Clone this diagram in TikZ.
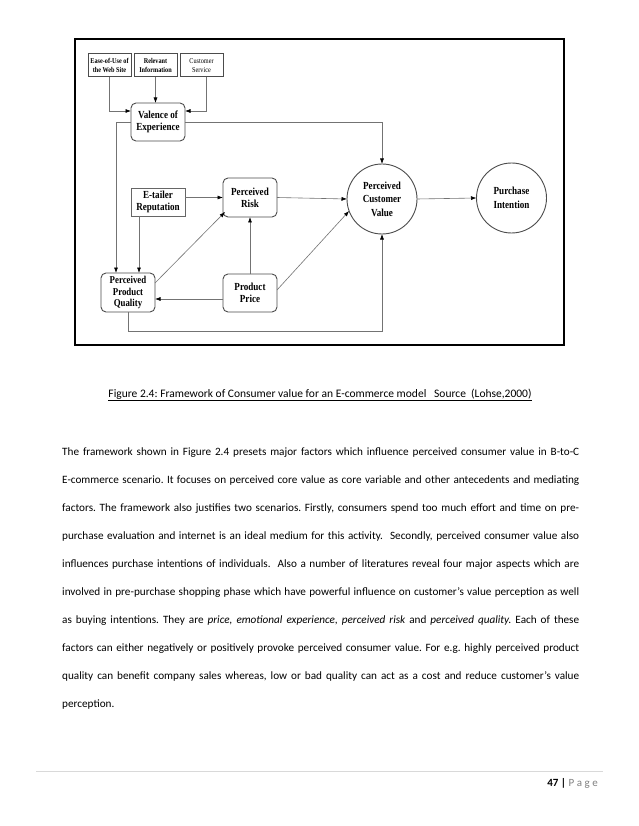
\documentclass[tikz,border=0pt]{standalone}
\usepackage{fontspec}
\setmainfont{Carlito}
\newfontfamily\dgfont[FakeStretch=0.84]{Liberation Serif}
\usetikzlibrary{arrows.meta,calc}
\frenchspacing
\begin{document}
\begin{tikzpicture}[x=1pt,y=-1pt,
  dtext/.style={font=\dgfont\bfseries\fontsize{10.8}{12.2}\selectfont, align=center},
  sbox/.style={draw=black!70, line width=1pt, minimum width=43pt, minimum height=23pt, inner sep=0pt, outer sep=0pt, align=center, font=\dgfont\bfseries\fontsize{7.4}{9}\selectfont},
  sboxl/.style={sbox, font=\dgfont\fontsize{7.4}{9}\selectfont},
  rbox/.style={dtext, draw=black!70, line width=0.9pt, rounded corners=5pt, minimum width=54pt, minimum height=39pt, inner sep=0pt, outer sep=0pt},
  qbox/.style={dtext, draw=black!60, line width=0.8pt, minimum width=54pt, minimum height=28pt, inner sep=0pt, outer sep=0pt},
  cnode/.style={dtext, draw=black!70, line width=0.9pt, circle, minimum size=70pt, inner sep=0pt, outer sep=0pt, font=\dgfont\bfseries\fontsize{10.8}{13.5}\selectfont},
  arr/.style={draw=black!55, line width=0.6pt, -{Latex[length=5.5pt,width=4pt,color=black]}},
  body/.style={anchor=base west, inner sep=0pt, font=\fontsize{11.2}{13}\selectfont}
]
\fill[white] (0,0) rectangle (638,826);
\useasboundingbox (0,0) rectangle (638,826);

% frame
\draw[line width=1.8pt] (75,39) rectangle (564,345);

% nodes
\node[sbox] (ease) at (109.5,65.5) {Ease-of-Use of\\the Web Site};
\node[sbox] (rel) at (155.5,65.5) {Relevant\\Information};
\node[sboxl] (cust) at (201.5,65.5) {Customer\\Service};
\node[rbox, minimum height=38pt] (val) at (158,122) {Valence of\\Experience};
\node[qbox] (etail) at (158,202) {E-tailer\\Reputation};
\node[rbox] (risk) at (250,197.5) {Perceived\\Risk};
\node[rbox, font=\dgfont\bfseries\fontsize{10.5}{11.3}\selectfont] (ppq) at (128,292.5) {Perceived\\Product\\Quality};
\node[rbox, minimum height=38pt] (price) at (250,293) {Product\\Price};
\node[cnode] (pcv) at (382,199) {Perceived\\Customer\\Value};
\node[cnode] (pi) at (511.5,198) {Purchase\\Intention};

\coordinate (valW) at ([yshift=11pt]val.west);
\coordinate (valE) at ([yshift=11pt]val.east);
\coordinate (custS) at ([xshift=5pt]cust.south);
\coordinate (ppqL) at ([xshift=-12pt]ppq.north);
\coordinate (ppqR) at ([xshift=11pt]ppq.north);
\coordinate (loop) at (128,331);

% connectors
\draw[arr] (ease.south) |- (valW);
\draw[arr] (rel.south) -- (rel.south |- val.north);
\draw[arr] (custS) |- (valE);
\draw[arr] (val.east) -| (pcv.north);
\draw[arr] (val.west) -| (ppqL);
\draw[arr] (etail.south -| ppqR) -- (ppqR);
\draw[arr] (etail.east |- risk.west) -- (risk.west);
\draw[arr] (risk.east) -- (pcv.west);
\draw[arr] (pcv.east) -- (pi.west);
\draw[arr] (price.north) -- (risk.south);
\draw[arr] ([yshift=-6pt]price.west) -- ([yshift=-6pt]price.west -| ppq.east);
\draw[arr] ([yshift=-10pt]ppq.north east) -- ([xshift=2pt,yshift=5pt]risk.south west);
\draw[arr] ([yshift=3pt]price.east) -- (pcv.200);
\draw[arr] (ppq.south) -- (loop) -| (pcv.south);

% caption
\node[anchor=base, inner sep=0pt, font=\fontsize{11.5}{13}\selectfont] (cap) at (320,397) {\underline{Figure 2.4: Framework of Consumer value for an E-commerce model\ \ \ Source\ \ (Lohse,2000)}};

% body text
\node[body] (l1) at (62,455) {\makebox[517pt][s]{The framework shown in Figure 2.4 presets major factors which influence perceived consumer value in B-to-C}};
\node[body] (l2) at (62,483) {\makebox[517pt][s]{E-commerce scenario. It focuses on perceived core value as core variable and other antecedents and mediating}};
\node[body] (l3) at (62,511) {\makebox[517pt][s]{factors. The framework also justifies two scenarios. Firstly, consumers spend too much effort and time on pre-}};
\node[body] (l4) at (62,539) {\makebox[517pt][s]{purchase evaluation and internet is an ideal medium for this activity.\ \ Secondly, perceived consumer value also}};
\node[body] (l5) at (62,567) {\makebox[517pt][s]{influences purchase intentions of individuals.\ \ Also a number of literatures reveal four major aspects which are}};
\node[body] (l6) at (62,595) {\makebox[517pt][s]{involved in pre-purchase shopping phase which have powerful influence on customer’s value perception as well}};
\node[body] (l7) at (62,623) {\makebox[517pt][s]{as buying intentions. They are \textit{price, emotional experience, perceived risk} and \textit{perceived quality.} Each of these}};
\node[body] (l8) at (62,651) {\makebox[517pt][s]{factors can either negatively or positively provoke perceived consumer value. For e.g. highly perceived product}};
\node[body] (l9) at (62,679) {\makebox[517pt][s]{quality can benefit company sales whereas, low or bad quality can act as a cost and reduce customer’s value}};
\node[body] (l10) at (62,707) {perception.};

% footer
\draw[black!15, line width=0.6pt] (36,771) -- (603,771);
\node[anchor=base east, inner sep=0pt, font=\fontsize{11}{13}\selectfont] (foot) at (598,786) {\textbf{47 |} \textcolor{black!50}{P\hspace{2.5pt}a\hspace{2.5pt}g\hspace{2.5pt}e}};
\end{tikzpicture}
\end{document}
